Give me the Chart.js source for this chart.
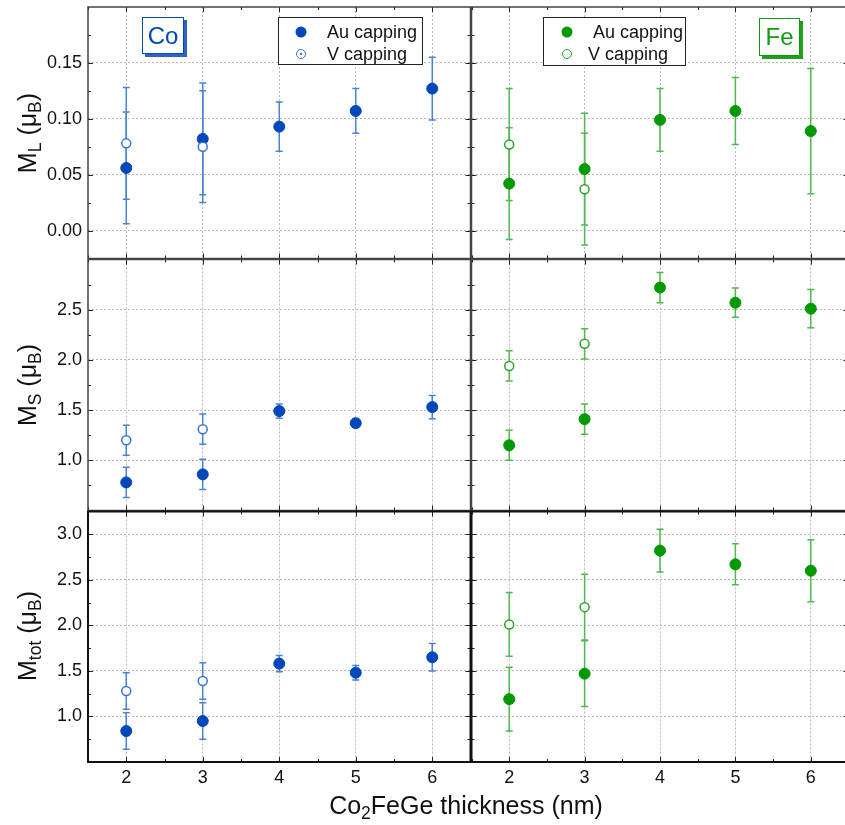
<!DOCTYPE html>
<html>
<head>
<meta charset="utf-8">
<script src="https://cdn.jsdelivr.net/npm/chart.js@4"></script>
<style>
  html, body { margin: 0; padding: 0; background: #fff; overflow: hidden; }
  #wrap { position: relative; width: 845px; height: 825px; overflow: hidden; font-family: "Liberation Sans", Arial, sans-serif; color: #111; }
  canvas { position: absolute; }
  .txt { position: absolute; white-space: nowrap; line-height: 1; }
  .ytitle { font-size: 25px; transform: translate(-50%, -50%) rotate(-90deg); }
  .xtitle { font-size: 25px; transform: translate(-50%, -50%); }
  sub { font-size: 0.7em; vertical-align: -0.3em; line-height: 0; }
  .legend { position: absolute; border: 1px solid #222; background: #fff; box-sizing: border-box; }
  .legend .lbl { position: absolute; font-size: 18px; transform: translateY(-50%); line-height: 1; }
  .dot { position: absolute; border-radius: 50%; box-sizing: border-box; transform: translate(-50%, -50%); }
  .tag { position: absolute; background: #fff; box-sizing: border-box; font-size: 24px; text-align: center; }
</style>
</head>
<body>
<div id="wrap">
  <canvas id="coMl" width="477" height="265" style="left:0;top:0"></canvas>
  <canvas id="feMl" width="390" height="265" style="left:465px;top:0"></canvas>
  <canvas id="coMs" width="477" height="264" style="left:0;top:253px"></canvas>
  <canvas id="feMs" width="390" height="264" style="left:465px;top:253px"></canvas>
  <canvas id="coMtot" width="477" height="320" style="left:0;top:505px"></canvas>
  <canvas id="feMtot" width="390" height="320" style="left:465px;top:505px"></canvas>

  <div class="txt ytitle" style="left:27px;top:133px">M<sub>L</sub> (μ<sub>B</sub>)</div>
  <div class="txt ytitle" style="left:27px;top:385px">M<sub>S</sub> (μ<sub>B</sub>)</div>
  <div class="txt ytitle" style="left:27px;top:636px">M<sub>tot</sub> (μ<sub>B</sub>)</div>
  <div class="txt xtitle" style="left:466px;top:805px">Co<sub>2</sub>FeGe thickness (nm)</div>

  <div class="tag" style="left:142px;top:17px;width:42px;height:37px;line-height:35px;color:#0047bb;border:1px solid #0047bb;box-shadow:3px 3px 0 #2f62c6">Co</div>
  <div class="tag" style="left:759px;top:18px;width:41px;height:38px;line-height:36px;color:#109a10;border:1px solid #109a10;box-shadow:3px 3px 0 #1aa31a">Fe</div>

  <div class="legend" style="left:278px;top:17px;width:145px;height:48px">
    <span class="dot" style="left:22px;top:14px;width:11px;height:11px;background:#0047bb"></span>
    <span class="lbl" style="left:48px;top:14px">Au capping</span>
    <span class="dot" style="left:22px;top:36px;width:10px;height:10px;border:1.5px solid #3a74d0;background:radial-gradient(circle,#3a74d0 0 1px,#fff 1.5px)"></span>
    <span class="lbl" style="left:48px;top:36px">V capping</span>
  </div>
  <div class="legend" style="left:543px;top:17px;width:143px;height:49px">
    <span class="dot" style="left:23px;top:14px;width:11px;height:11px;background:#009a00"></span>
    <span class="lbl" style="left:49px;top:14px">Au capping</span>
    <span class="dot" style="left:23px;top:36px;width:10px;height:10px;border:1.5px solid #2aa52a;background:#fff"></span>
    <span class="lbl" style="left:44px;top:36px">V capping</span>
  </div>
</div>
<script>
//1) DATA//
const thickness = [2, 3, 4, 5, 6]
const thicknessV = [2, 3]

// Co edge
const coMlAu = [0.056, 0.082, 0.093, 0.107, 0.127]
const coMlAuErr = [0.050, 0.050, 0.022, 0.020, 0.028]
const coMlV = [0.078, 0.075]
const coMlVErr = [0.050, 0.050]
const coMsAu = [0.78, 0.86, 1.49, 1.37, 1.53]
const coMsAuErr = [0.15, 0.15, 0.07, 0.04, 0.115]
const coMsV = [1.20, 1.31]
const coMsVErr = [0.15, 0.15]
const coMtotAu = [0.84, 0.95, 1.58, 1.48, 1.65]
const coMtotAuErr = [0.20, 0.20, 0.09, 0.08, 0.15]
const coMtotV = [1.28, 1.39]
const coMtotVErr = [0.20, 0.20]

// Fe edge
const feMlAu = [0.042, 0.055, 0.099, 0.107, 0.089]
const feMlAuErr = [0.050, 0.050, 0.028, 0.030, 0.056]
const feMlV = [0.077, 0.037]
const feMlVErr = [0.050, 0.050]
const feMsAu = [1.15, 1.41, 2.72, 2.57, 2.51]
const feMsAuErr = [0.15, 0.15, 0.15, 0.145, 0.19]
const feMsV = [1.94, 2.16]
const feMsVErr = [0.15, 0.15]
const feMtotAu = [1.19, 1.47, 2.82, 2.67, 2.60]
const feMtotAuErr = [0.35, 0.36, 0.235, 0.225, 0.34]
const feMtotV = [2.01, 2.20]
const feMtotVErr = [0.35, 0.36]

// ticks
const xMinor = [1.5, 2.5, 3.5, 4.5, 5.5, 6.5]
const mlTicks = [0, 0.05, 0.10, 0.15]
const mlMinor = [0.025, 0.075, 0.125, 0.175]
const msTicks = [1.0, 1.5, 2.0, 2.5]
const msMinor = [0.75, 1.25, 1.75, 2.25, 2.75]
const mtotTicks = [1.0, 1.5, 2.0, 2.5, 3.0]
const mtotMinor = [0.75, 1.25, 1.75, 2.25, 2.75]

//2) COLORS//
const blue = { point: '#0047bb', open: '#3a74d0', err: '#4a82d6' }
const green = { point: '#009a00', open: '#2aa52a', err: '#52b852' }
const font = '"Liberation Sans", Arial, sans-serif'

//3) PLUGIN: error bars, frame and inward ticks//
const panelPlugin = {
   id: 'panel',
   beforeDatasetsDraw(chart) {
      const ctx = chart.ctx
      const x = chart.scales.x, y = chart.scales.y
      const a = chart.chartArea
      ctx.save()
      ctx.beginPath()
      ctx.rect(a.left, a.top, a.right - a.left, a.bottom - a.top)
      ctx.clip()
      chart.data.datasets.forEach(ds => {
         ctx.strokeStyle = ds.errColor
         ctx.lineWidth = 1.5
         ds.data.forEach((p, i) => {
            const e = ds.errors[i]
            const px = x.getPixelForValue(p.x)
            const hi = y.getPixelForValue(p.y + e)
            const lo = y.getPixelForValue(p.y - e)
            ctx.beginPath()
            ctx.moveTo(px, hi); ctx.lineTo(px, lo)
            ctx.moveTo(px - 3.5, hi); ctx.lineTo(px + 3.5, hi)
            ctx.moveTo(px - 3.5, lo); ctx.lineTo(px + 3.5, lo)
            ctx.stroke()
         })
      })
      ctx.restore()
   },
   afterDraw(chart, args, opts) {
      const ctx = chart.ctx
      const x = chart.scales.x, y = chart.scales.y
      const { left, right, top, bottom } = chart.chartArea
      ctx.save()
      ctx.strokeStyle = opts.tickColor
      ctx.lineWidth = 1
      const tickX = (v, len) => {
         const px = Math.round(x.getPixelForValue(v)) + 0.5
         ctx.moveTo(px, bottom); ctx.lineTo(px, bottom - len)
         ctx.moveTo(px, top); ctx.lineTo(px, top + len)
      }
      const tickY = (v, len) => {
         const py = Math.round(y.getPixelForValue(v)) + 0.5
         ctx.moveTo(left, py); ctx.lineTo(left + len, py)
         ctx.moveTo(right, py); ctx.lineTo(right - len, py)
      }
      ctx.beginPath()
      thickness.forEach(v => tickX(v, 5))
      xMinor.forEach(v => tickX(v, 3))
      opts.yMajor.forEach(v => tickY(v, 5))
      opts.yMinor.forEach(v => tickY(v, 3))
      ctx.stroke()

      ctx.strokeStyle = opts.frameColor
      ctx.lineWidth = opts.frameWidth
      ctx.strokeRect(left, top, right - left, bottom - top)
      ctx.restore()
   }
}

//4) CHARTS//
function toPoints(xs, ys) {
   return xs.map((v, i) => ({ x: v, y: ys[i] }))
}

// no extra room for tick labels that hang over the plot edges
function noOverhang(s) {
   s.paddingTop = 0
   s.paddingBottom = 0
   s.paddingLeft = 0
   s.paddingRight = 0
}

function makePanel(id, p) {
   const c = p.color
   return new Chart(document.getElementById(id), {
      type: 'scatter',
      data: {
         datasets: [
            {
               label: 'V capping',
               data: toPoints(thicknessV, p.v),
               errors: p.vErr,
               errColor: c.err,
               pointRadius: 4.5,
               pointBorderWidth: 1.5,
               pointBackgroundColor: '#fff',
               pointBorderColor: c.open
            },
            {
               label: 'Au capping',
               data: toPoints(thickness, p.au),
               errors: p.auErr,
               errColor: c.err,
               pointRadius: 5.5,
               pointBorderWidth: 1,
               pointBackgroundColor: c.point,
               pointBorderColor: c.point
            }
         ]
      },
      options: {
         responsive: false,
         animation: false,
         layout: { padding: p.padding },
         plugins: {
            legend: { display: false },
            tooltip: { enabled: false },
            panel: {
               yMajor: p.yTicks,
               yMinor: p.yMinor,
               frameColor: p.frameColor,
               frameWidth: p.frameWidth,
               tickColor: '#222'
            }
         },
         scales: {
            x: {
               type: 'linear',
               min: 1.5,
               max: 6.5,
               afterBuildTicks: s => { s.ticks = thickness.map(v => ({ value: v })) },
               afterFit: s => { s.height = p.xHeight; noOverhang(s) },
               grid: { color: '#b8b8b8', drawTicks: false },
               border: { display: false, dash: [2, 2] },
               ticks: {
                  display: p.showX,
                  padding: 5,
                  color: '#111',
                  font: { size: 18, family: font }
               }
            },
            y: {
               type: 'linear',
               min: p.yMin,
               max: p.yMax,
               afterBuildTicks: s => { s.ticks = p.yTicks.map(v => ({ value: v })) },
               afterFit: s => { s.width = p.yWidth; noOverhang(s) },
               grid: { color: '#b8b8b8', drawTicks: false },
               border: { display: false, dash: [2, 2] },
               ticks: {
                  display: p.showY,
                  padding: 6,
                  color: '#111',
                  font: { size: 18, family: font },
                  callback: v => v.toFixed(p.decimals)
               }
            }
         }
      },
      plugins: [panelPlugin]
   })
}

const leftCol = { yWidth: 88, showY: true }
const rightCol = { yWidth: 0, showY: false }
const topRow = { padding: { top: 7, bottom: 6, left: 0, right: 0 }, xHeight: 0, showX: false, frameColor: '#444', frameWidth: 1.5 }
const midRow = { padding: { top: 6, bottom: 6, left: 0, right: 0 }, xHeight: 0, showX: false, frameColor: '#444', frameWidth: 1.5 }
const botRow = { padding: { top: 6, bottom: 0, left: 0, right: 0 }, xHeight: 63, showX: true, frameColor: '#111', frameWidth: 2 }

const mlScale = { yMin: -0.025, yMax: 0.2, yTicks: mlTicks, yMinor: mlMinor, decimals: 2 }
const msScale = { yMin: 0.5, yMax: 3.0, yTicks: msTicks, yMinor: msMinor, decimals: 1 }
const mtotScale = { yMin: 0.5, yMax: 3.25, yTicks: mtotTicks, yMinor: mtotMinor, decimals: 1 }

function pad(row, side) {
   return Object.assign({}, row.padding, side === 'left' ? { right: 6 } : { left: 6 })
}

makePanel('coMl', Object.assign({}, leftCol, topRow, mlScale, { padding: pad(topRow, 'left'), color: blue, au: coMlAu, auErr: coMlAuErr, v: coMlV, vErr: coMlVErr }))
makePanel('feMl', Object.assign({}, rightCol, topRow, mlScale, { padding: pad(topRow, 'right'), color: green, au: feMlAu, auErr: feMlAuErr, v: feMlV, vErr: feMlVErr }))
makePanel('coMs', Object.assign({}, leftCol, midRow, msScale, { padding: pad(midRow, 'left'), color: blue, au: coMsAu, auErr: coMsAuErr, v: coMsV, vErr: coMsVErr }))
makePanel('feMs', Object.assign({}, rightCol, midRow, msScale, { padding: pad(midRow, 'right'), color: green, au: feMsAu, auErr: feMsAuErr, v: feMsV, vErr: feMsVErr }))
makePanel('coMtot', Object.assign({}, leftCol, botRow, mtotScale, { padding: pad(botRow, 'left'), color: blue, au: coMtotAu, auErr: coMtotAuErr, v: coMtotV, vErr: coMtotVErr }))
makePanel('feMtot', Object.assign({}, rightCol, botRow, mtotScale, { padding: pad(botRow, 'right'), color: green, au: feMtotAu, auErr: feMtotAuErr, v: feMtotV, vErr: feMtotVErr }))
</script>
</body>
</html>
